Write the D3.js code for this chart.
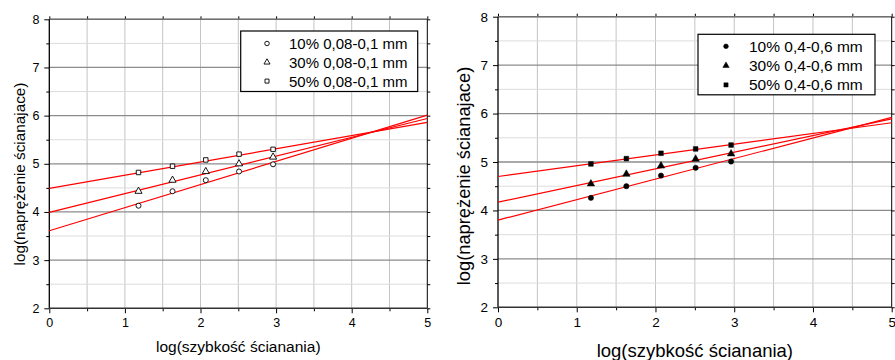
<!DOCTYPE html>
<html>
<head>
<meta charset="utf-8">
<script src="https://cdn.jsdelivr.net/npm/d3@7"></script>
<style>
  body { margin: 0; background: #fff; }
  text { font-family: "Liberation Sans", Arial, sans-serif; fill: #000; }
</style>
</head>
<body>
<div id="chart"></div>
<script>
// shared x positions of the measurements
const xValues = [1.18, 1.63, 2.07, 2.51, 2.96];
const xTicks = [0, 1, 2, 3, 4, 5];
const yTicks = [2, 3, 4, 5, 6, 7, 8];

// left panel, 0.08-0.1 mm
const seriesLeft = ["10% 0,08-0,1 mm", "30% 0,08-0,1 mm", "50% 0,08-0,1 mm"];
const valuesLeft10 = [4.13, 4.43, 4.66, 4.84, 4.99];
const valuesLeft30 = [4.43, 4.66, 4.84, 5.00, 5.14];
const valuesLeft50 = [4.82, 4.95, 5.08, 5.20, 5.30];
const fitInterceptLeft = [3.61, 3.99, 4.49];
const fitSlopeLeft = [0.48, 0.39, 0.274];

// right panel, 0.4-0.6 mm
const seriesRight = ["10% 0,4-0,6 mm", "30% 0,4-0,6 mm", "50% 0,4-0,6 mm"];
const valuesRight10 = [4.26, 4.50, 4.72, 4.88, 5.01];
const valuesRight30 = [4.55, 4.75, 4.92, 5.06, 5.17];
const valuesRight50 = [4.96, 5.07, 5.18, 5.27, 5.35];
const fitInterceptRight = [3.80, 4.17, 4.70];
const fitSlopeRight = [0.424, 0.344, 0.222];

const xLabel = "log(szybkość ścianania)";
const yLabel = "log(naprężenie ścianajace)";
const shapes = [d3.symbolCircle, d3.symbolTriangle, d3.symbolSquare];

const svg = d3.select("#chart").append("svg")
  .attr("width", 895).attr("height", 360);

function panel(cfg) {
  const x = d3.scaleLinear().domain([0, 5]).range([cfg.left, cfg.right]);
  const y = d3.scaleLinear().domain([2, 8]).range([cfg.bottom, cfg.top]);
  const g = svg.append("g");

  // grid
  g.append("g").selectAll("line")
    .data(d3.range(0.5, 5, 0.5))
    .join("line")
    .attr("x1", d => x(d)).attr("x2", d => x(d))
    .attr("y1", cfg.top).attr("y2", cfg.bottom)
    .attr("stroke", "#c4c4c4").attr("stroke-width", 1);
  g.append("g").selectAll("line")
    .data(d3.range(2.5, 8.01, 0.5))
    .join("line")
    .attr("x1", cfg.left).attr("x2", cfg.right)
    .attr("y1", d => y(d)).attr("y2", d => y(d))
    .attr("stroke", d => d % 1 === 0 ? "#8c8c8c" : "#dcdcdc")
    .attr("stroke-width", d => d % 1 === 0 ? 1.3 : 1);

  // axes (outward ticks on all four sides)
  const minorX = d3.range(0.5, 5, 1), minorY = d3.range(2.5, 8, 1);
  const addAxis = (axisFn, scale, pos, ticks, size, labels) => {
    const a = g.append("g").attr("transform", pos)
      .call(axisFn(scale).tickValues(ticks).tickSize(size).tickPadding(3)
        .tickFormat(labels ? d3.format("d") : ""));
    a.select(".domain").remove();
    a.selectAll("line").attr("stroke", "#000");
    a.selectAll("text").style("font-size", cfg.tickFont + "px")
      .style("font-family", '"Liberation Sans", Arial, sans-serif');
    return a;
  };
  addAxis(d3.axisBottom, x, `translate(0,${cfg.bottom})`, xTicks, 5, true)
    .selectAll("text").attr("dy", "0.85em");
  addAxis(d3.axisBottom, x, `translate(0,${cfg.bottom})`, minorX, 3, false);
  addAxis(d3.axisLeft, y, `translate(${cfg.left},0)`, yTicks, 5, true)
    .selectAll("text").attr("dx", "-0.15em");
  addAxis(d3.axisLeft, y, `translate(${cfg.left},0)`, minorY, 3, false);
  addAxis(d3.axisTop, x, `translate(0,${cfg.top})`, minorX, 3, false);
  addAxis(d3.axisTop, x, `translate(0,${cfg.top})`, xTicks, 3, false);
  addAxis(d3.axisRight, y, `translate(${cfg.right},0)`, minorY, 3, false);
  addAxis(d3.axisRight, y, `translate(${cfg.right},0)`, yTicks, 3, false);

  // frame
  g.append("line").attr("x1", cfg.left).attr("x2", cfg.right)
    .attr("y1", cfg.top).attr("y2", cfg.top).attr("stroke", "#707070").attr("stroke-width", 1.5);
  g.append("line").attr("x1", cfg.right).attr("x2", cfg.right)
    .attr("y1", cfg.top).attr("y2", cfg.bottom).attr("stroke", "#000");
  g.append("line").attr("x1", cfg.left).attr("x2", cfg.left)
    .attr("y1", cfg.top).attr("y2", cfg.bottom).attr("stroke", "#000").attr("stroke-width", 1.3);
  g.append("line").attr("x1", cfg.left).attr("x2", cfg.right)
    .attr("y1", cfg.bottom).attr("y2", cfg.bottom).attr("stroke", "#333").attr("stroke-width", 1.5);

  // fitted lines
  cfg.intercepts.forEach((b, i) => {
    const m = cfg.slopes[i];
    g.append("line")
      .attr("x1", x(0)).attr("y1", y(b))
      .attr("x2", x(5)).attr("y2", y(b + 5 * m))
      .attr("stroke", "#ff0000").attr("stroke-width", 1.2);
  });

  // points
  cfg.series.forEach((vals, i) => {
    g.append("g").selectAll("path")
      .data(vals)
      .join("path")
      .attr("transform", (d, j) => `translate(${x(xValues[j])},${y(d)})`)
      .attr("d", d3.symbol().type(shapes[i]).size(i === 1 ? cfg.symSize * 1.1 : cfg.symSize))
      .attr("fill", cfg.filled ? "#000" : "#fff")
      .attr("stroke", "#000").attr("stroke-width", cfg.filled ? 0.5 : 0.9);
  });

  // legend
  const L = cfg.legend;
  g.append("rect").attr("x", L.x).attr("y", L.y).attr("width", L.w).attr("height", L.h)
    .attr("fill", "#fff").attr("stroke", "#000").attr("stroke-width", 1.2);
  cfg.names.forEach((name, i) => {
    const cy = L.y + L.first + i * L.step;
    g.append("path")
      .attr("transform", `translate(${L.symX},${cy})`)
      .attr("d", d3.symbol().type(shapes[i]).size(cfg.symSize * 0.8))
      .attr("fill", cfg.filled ? "#000" : "#fff")
      .attr("stroke", "#000").attr("stroke-width", cfg.filled ? 0.5 : 0.9);
    g.append("text").attr("x", L.textX).attr("y", cy)
      .attr("dominant-baseline", "central")
      .style("font-size", L.font + "px").text(name);
  });

  // axis titles
  g.append("text")
    .attr("x", (cfg.left + cfg.right) / 2 + cfg.xLabelShift).attr("y", cfg.xLabelY)
    .attr("text-anchor", "middle").style("font-size", cfg.labelFont + "px").text(xLabel);
  g.append("text")
    .attr("transform", `translate(${cfg.yLabelX},${cfg.yLabelCY}) rotate(-90)`)
    .attr("text-anchor", "middle").attr("dominant-baseline", "central")
    .style("font-size", cfg.yLabelFont + "px").text(yLabel);
}

panel({
  left: 49.3, right: 427.3, top: 19.3, bottom: 308.3,
  tickFont: 12.5, labelFont: 15.5, yLabelFont: 15.3, symSize: 20, filled: false,
  series: [valuesLeft10, valuesLeft30, valuesLeft50],
  intercepts: fitInterceptLeft, slopes: fitSlopeLeft, names: seriesLeft,
  legend: { x: 240.7, y: 31, w: 177, h: 60.5, first: 12.5, step: 18.8, symX: 267, textX: 289, font: 15 },
  xLabelY: 352, xLabelShift: 0, yLabelX: 19, yLabelCY: 174
});

panel({
  left: 498, right: 891.7, top: 16.7, bottom: 307.3,
  tickFont: 13.5, labelFont: 18.5, yLabelFont: 18.3, symSize: 22, filled: true,
  series: [valuesRight10, valuesRight30, valuesRight50],
  intercepts: fitInterceptRight, slopes: fitSlopeRight, names: seriesRight,
  legend: { x: 698, y: 34.3, w: 177, h: 60.5, first: 12, step: 19.3, symX: 726, textX: 749, font: 15.5 },
  xLabelY: 357, xLabelShift: 0, yLabelX: 463, yLabelCY: 176
});
</script>
</body>
</html>
